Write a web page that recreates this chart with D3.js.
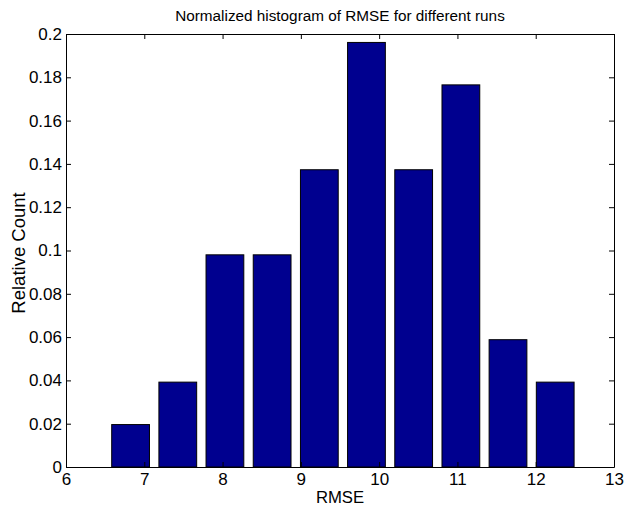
<!DOCTYPE html>
<html>
<head>
<script src="https://d3js.org/d3.v7.min.js"></script>
<style>
  body { margin: 0; background: #fff; }
  svg text { font-family: "Liberation Sans", Arial, sans-serif; fill: #000; }
  .axis path, .axis line { stroke: #000; stroke-width: 1px; }
</style>
</head>
<body>
<div id="chart"></div>
<script>
// bin centres (RMSE) and normalized counts
const binCenters = [6.825, 7.428, 8.030, 8.633, 9.236, 9.838, 10.441, 11.044, 11.646, 12.249];
const relCounts = [0.0196, 0.0392, 0.0980, 0.0980, 0.1373, 0.1961, 0.1373, 0.1765, 0.0588, 0.0392];
const xTicks = [6, 7, 8, 9, 10, 11, 12, 13];
const yTicks = [0, 0.02, 0.04, 0.06, 0.08, 0.1, 0.12, 0.14, 0.16, 0.18, 0.2];

const width = 624, height = 506;
const margin = { top: 34, right: 10, bottom: 39, left: 66 };
const iw = width - margin.left - margin.right;
const ih = height - margin.top - margin.bottom;

const svg = d3.select('#chart').append('svg')
  .attr('width', width).attr('height', height);
const g = svg.append('g').attr('transform', `translate(${margin.left},${margin.top})`);

const x = d3.scaleLinear().domain([6, 13]).range([0, iw]);
const y = d3.scaleLinear().domain([0, 0.2]).range([ih, 0]);

const binW = binCenters[1] - binCenters[0];
const barW = x(6 + binW * 0.8) - x(6);

g.selectAll('.bar')
  .data(binCenters.map((c, i) => ({ c, v: relCounts[i] })))
  .enter().append('rect')
  .attr('x', d => x(d.c) - barW / 2)
  .attr('y', d => y(d.v))
  .attr('width', barW)
  .attr('height', d => ih - y(d.v))
  .attr('fill', '#00008f')
  .attr('stroke', '#000')
  .attr('stroke-width', 1);

// axes, ticks pointing inward, box on all sides
const fmt = d => d3.format('~g')(d);
g.append('g').attr('class', 'axis').attr('transform', `translate(0,${ih})`)
  .call(d3.axisBottom(x).tickValues(xTicks).tickSizeInner(-5).tickSizeOuter(0).tickPadding(6).tickFormat(fmt));
g.append('g').attr('class', 'axis')
  .call(d3.axisTop(x).tickValues(xTicks).tickSizeInner(-5).tickSizeOuter(0).tickFormat(''));
g.append('g').attr('class', 'axis')
  .call(d3.axisLeft(y).tickValues(yTicks).tickSizeInner(-5).tickSizeOuter(0).tickPadding(4).tickFormat(fmt));
g.append('g').attr('class', 'axis').attr('transform', `translate(${iw},0)`)
  .call(d3.axisRight(y).tickValues(yTicks).tickSizeInner(-5).tickSizeOuter(0).tickFormat(''));
g.selectAll('.axis').attr('font-family', null).attr('font-size', 17);

svg.append('text')
  .attr('x', margin.left + iw / 2).attr('y', 21)
  .attr('text-anchor', 'middle').attr('font-size', 15.3)
  .text('Normalized histogram of RMSE for different runs');

svg.append('text')
  .attr('x', margin.left + iw / 2).attr('y', 503)
  .attr('text-anchor', 'middle').attr('font-size', 16.7)
  .text('RMSE');

svg.append('text')
  .attr('transform', `translate(25,253) rotate(-90)`)
  .attr('text-anchor', 'middle').attr('font-size', 18.5)
  .text('Relative Count');
</script>
</body>
</html>
